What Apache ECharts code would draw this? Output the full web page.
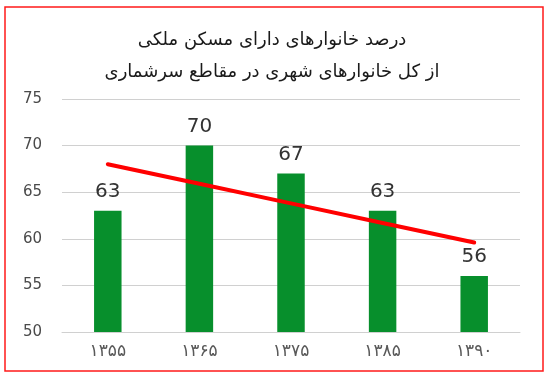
<!DOCTYPE html>
<html>
<head>
<meta charset="utf-8">
<script src="https://cdn.jsdelivr.net/npm/echarts@6/dist/echarts.min.js"></script>
<style>
  html, body { margin: 0; padding: 0; background: #fff; }
  #chart { width: 544px; height: 380px; }
</style>
</head>
<body>
<div id="chart"></div>
<script>
const years = ["۱۳۵۵", "۱۳۶۵", "۱۳۷۵", "۱۳۸۵", "۱۳۹۰"];
const ownerShare = [63, 70, 67, 63, 56];
// trend line
const trend = [68, 65.9, 63.8, 61.7, 59.6];
const titleText = "درصد خانوارهای دارای مسکن ملکی\nاز کل خانوارهای شهری در مقاطع سرشماری";

const chart = echarts.init(document.getElementById("chart"));
chart.setOption({
  animation: false,
  title: {
    text: titleText,
    left: "center",
    top: 19,
    textStyle: {
      fontFamily: "DejaVu Sans",
      fontSize: 18,
      fontWeight: "normal",
      color: "#1a1a1a",
      lineHeight: 32,
    },
  },
  graphic: [
    {
      type: "rect",
      shape: { x: 5, y: 7, width: 538, height: 364 },
      style: { fill: "none", stroke: "#ff1a1a", lineWidth: 1.5 },
    },
  ],
  grid: { left: 62, right: 24, top: 99, bottom: 48 },
  xAxis: {
    type: "category",
    data: years,
    axisLine: { lineStyle: { color: "#d0d0d0" } },
    axisTick: { show: false },
    axisLabel: {
      fontFamily: "DejaVu Sans",
      fontSize: 17,
      color: "#595959",
      margin: 11,
    },
  },
  yAxis: {
    type: "value",
    min: 50,
    max: 75,
    interval: 5,
    axisLine: { show: false },
    axisTick: { show: false },
    axisLabel: {
      fontFamily: "DejaVu Sans",
      fontSize: 15,
      color: "#4a4a4a",
      margin: 20,
    },
    splitLine: { lineStyle: { color: "#d0d0d0" } },
  },
  series: [
    {
      type: "bar",
      data: ownerShare,
      barWidth: "30%",
      itemStyle: { color: "#078f2c" },
      label: {
        show: true,
        position: "top",
        distance: 9,
        fontFamily: "DejaVu Sans",
        fontSize: 20,
        color: "#333",
      },
    },
    {
      type: "line",
      data: trend,
      symbol: "none",
      lineStyle: { color: "#ff0000", width: 4, cap: "round" },
      z: 5,
    },
  ],
});
</script>
</body>
</html>
